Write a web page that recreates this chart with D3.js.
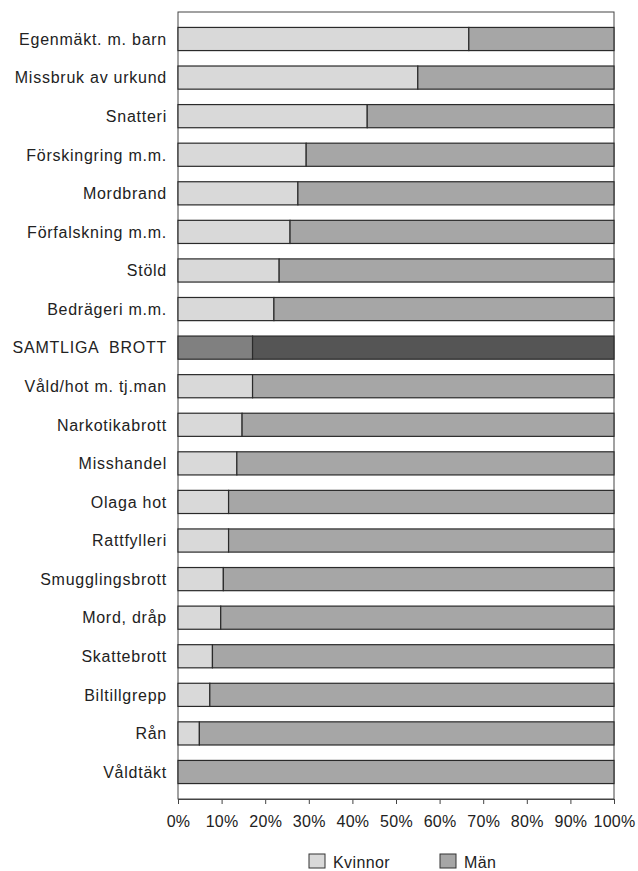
<!DOCTYPE html>
<html><head><meta charset="utf-8">
<script src="https://cdn.jsdelivr.net/npm/d3@7"></script>
<style>body{margin:0;background:#fff}svg{display:block}text{font-family:"Liberation Sans",Arial,sans-serif;fill:#222}</style>
</head><body><svg id="c" width="638" height="871"></svg>
<script>
const categories = ["Egenmäkt. m. barn","Missbruk av urkund","Snatteri","Förskingring m.m.","Mordbrand","Förfalskning m.m.","Stöld","Bedrägeri m.m.","SAMTLIGA  BROTT","Våld/hot m. tj.man","Narkotikabrott","Misshandel","Olaga hot","Rattfylleri","Smugglingsbrott","Mord, dråp","Skattebrott","Biltillgrepp","Rån","Våldtäkt"];
const kvinnor = [66.7,55.0,43.4,29.4,27.5,25.7,23.2,22.0,17.1,17.1,14.7,13.5,11.6,11.6,10.4,9.8,7.9,7.3,4.9,0];
const man = kvinnor.map(v => 100 - v);
const tickValues = [0,10,20,30,40,50,60,70,80,90,100];
const seriesNames = ["Kvinnor","Män"];

const svg = d3.select("#c");
const L = 178, R = 614, T = 12, B = 799;
const x = d3.scaleLinear().domain([0,100]).range([L,R]);
const y = d3.scaleBand().domain(categories).range([T,B]).padding(0.4);
const fillK = d => d === "SAMTLIGA  BROTT" ? "#808080" : "#d9d9d9";
const fillM = d => d === "SAMTLIGA  BROTT" ? "#555555" : "#a6a6a6";

// frame
svg.append("rect").attr("x",L).attr("y",T).attr("width",R-L).attr("height",B-T)
  .attr("fill","none").attr("stroke","#444").attr("stroke-width",1);

const g = svg.append("g");
categories.forEach((c,i) => {
  g.append("rect").attr("x",x(0)).attr("y",y(c)).attr("width",x(kvinnor[i])-x(0)).attr("height",y.bandwidth())
    .attr("fill",fillK(c)).attr("stroke","#2a2a2a").attr("stroke-width",1.2);
  g.append("rect").attr("x",x(kvinnor[i])).attr("y",y(c)).attr("width",x(100)-x(kvinnor[i])).attr("height",y.bandwidth())
    .attr("fill",fillM(c)).attr("stroke","#2a2a2a").attr("stroke-width",1.2);
});

// y labels
svg.append("g").selectAll("text").data(categories).join("text")
  .attr("x",L-11).attr("y",d=>y(d)+y.bandwidth()/2).attr("dy","0.36em")
  .attr("text-anchor","end").attr("font-size",16).attr("letter-spacing","0.75px")
  .style("white-space","pre").text(d=>d);

// x axis
const xa = svg.append("g").attr("transform",`translate(0,${B})`)
  .call(d3.axisBottom(x).tickValues(tickValues).tickFormat(d=>d+"%").tickSize(5).tickSizeOuter(0));
xa.select(".domain").attr("stroke","#444");
xa.selectAll(".tick line").attr("stroke","#444");
xa.selectAll(".tick text").attr("font-size",16).attr("font-family","Liberation Sans, Arial, sans-serif")
  .attr("fill","#222").attr("y",28).attr("dy",0).attr("letter-spacing","0.3px");

// legend
const lg = svg.append("g");
const legX = [309,440];
seriesNames.forEach((s,i)=>{
  lg.append("rect").attr("x",legX[i]).attr("y",854).attr("width",16).attr("height",14)
    .attr("fill",i===0?"#d9d9d9":"#a6a6a6").attr("stroke","#333").attr("stroke-width",1);
  lg.append("text").attr("x",legX[i]+24).attr("y",868).attr("font-size",16).attr("letter-spacing","0.4px").text(s);
});
</script></body></html>
